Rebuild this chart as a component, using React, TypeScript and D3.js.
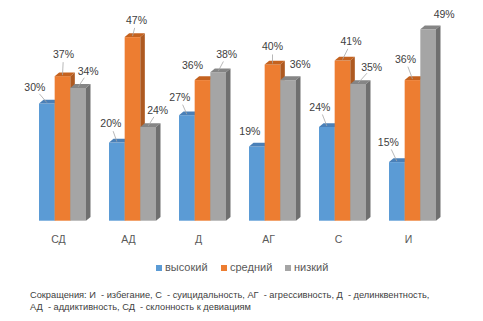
import React from "react";
import * as d3 from "d3";

const categories = ["СД", "АД", "Д", "АГ", "С", "И"];
const seriesNames = ["высокий", "средний", "низкий"];
const high = [30, 20, 27, 19, 24, 15];
const mid = [37, 47, 36, 40, 41, 36];
const low = [34, 24, 38, 36, 35, 49];
const footnote = [
  "Сокращения: И  - избегание, С  - суицидальность, АГ  - агрессивность, Д  - делинквентность,",
  "АД  - аддиктивность, СД  - склонность к девиациям",
];

// label offsets relative to bar top centre [dx, dy, leader]
const labelOffsets: [number, number, boolean][][] = [
  [[-12, -15, true], [1, -21, true], [10, -16, true]],
  [[-6, -18, true], [4, -16, true], [9.5, -16, true]],
  [[-7, -17, true], [-10, -14, false], [8.5, -17, true]],
  [[-7, -14, false], [0, -17, true], [12, -15, false]],
  [[-7, -19, true], [8.5, -18, true], [13.5, -16, true]],
  [[-8.5, -19, true], [-7, -20, true], [16, -14, false]],
];

const front = ["#5b9bd5", "#ed7d31", "#a5a5a5"];
const top = ["#4a80b8", "#c4621f", "#858585"];
const side = ["#41719c", "#ae5a21", "#6f6f6f"];

const W = 483, H = 321;
const DX = 4.5, DY = -3.8;
const FONT = "'Liberation Sans', Arial, sans-serif";

export default function App() {
  const data = [high, mid, low];
  const x = d3.scaleBand<string>().domain(categories).range([27.5, 447.5]).paddingInner(0.3286).paddingOuter(0.1643);
  const x1 = d3.scaleBand<string>().domain(seriesNames).range([0, x.bandwidth()]).padding(0);
  const y = d3.scaleLinear().domain([0, 50]).range([220.7, 25.4]);
  const base = y(0);
  const bw = x1.bandwidth();

  const bars: React.ReactNode[] = [];
  const labels: React.ReactNode[] = [];
  categories.forEach((c, i) => {
    seriesNames.forEach((s, j) => {
      const v = data[j][i];
      const x0 = (x(c) as number) + (x1(s) as number);
      const xr = x0 + bw;
      const yt = y(v);
      bars.push(
        <g key={`b${i}-${j}`}>
          <rect x={x0} y={yt} width={bw} height={base - yt} fill={front[j]} />
          <polygon points={`${x0},${yt} ${x0 + DX},${yt + DY} ${xr + DX},${yt + DY} ${xr},${yt}`} fill={top[j]} />
          <polygon points={`${xr},${yt} ${xr + DX},${yt + DY} ${xr + DX},${base + DY} ${xr},${base}`} fill={side[j]} />
        </g>
      );
      const [ox, oy, leader] = labelOffsets[i][j];
      const cx = x0 + bw / 2;
      const lx = cx + ox;
      const ly = yt + oy;
      if (leader) {
        const ang = Math.atan2(yt - 1 - ly, cx - lx);
        const sx = lx + Math.cos(ang) * 7;
        const sy = ly + Math.sin(ang) * 7;
        labels.push(
          <line key={`l${i}-${j}`} x1={sx} y1={sy} x2={cx} y2={yt - 1} stroke="#a6a6a6" strokeWidth={0.8} />
        );
      }
      labels.push(
        <text key={`t${i}-${j}`} x={lx} y={ly} textAnchor="middle" dominantBaseline="middle" fontSize={10.5} fill="#404040" fontFamily={FONT}>
          {v}%
        </text>
      );
    });
  });

  const legendItems = [
    { x: 156, tx: 165 },
    { x: 221, tx: 230 },
    { x: 285, tx: 294 },
  ];

  return (
    <svg width={W} height={H} style={{ position: "absolute", left: 0, top: 0, background: "#fff" }}>
      <rect width={W} height={H} fill="#fff" />
      {bars}
      {labels}
      {categories.map((c) => (
        <text key={c} x={(x(c) as number) + x.bandwidth() / 2 - 4} y={240} textAnchor="middle" dominantBaseline="middle" fontSize={10.5} fill="#595959" fontFamily={FONT}>
          {c}
        </text>
      ))}
      {seriesNames.map((s, j) => (
        <g key={s}>
          <rect x={legendItems[j].x} y={265} width={6} height={6} fill={front[j]} />
          <text x={legendItems[j].tx} y={268.5} dominantBaseline="middle" fontSize={11} fill="#595959" fontFamily={FONT}>
            {s}
          </text>
        </g>
      ))}
      {footnote.map((t, k) => (
        <text key={k} x={30} y={298 + k * 12.3} fontSize={9.25} fill="#404040" fontFamily={FONT} style={{ whiteSpace: "pre" }}>
          {t}
        </text>
      ))}
    </svg>
  );
}
